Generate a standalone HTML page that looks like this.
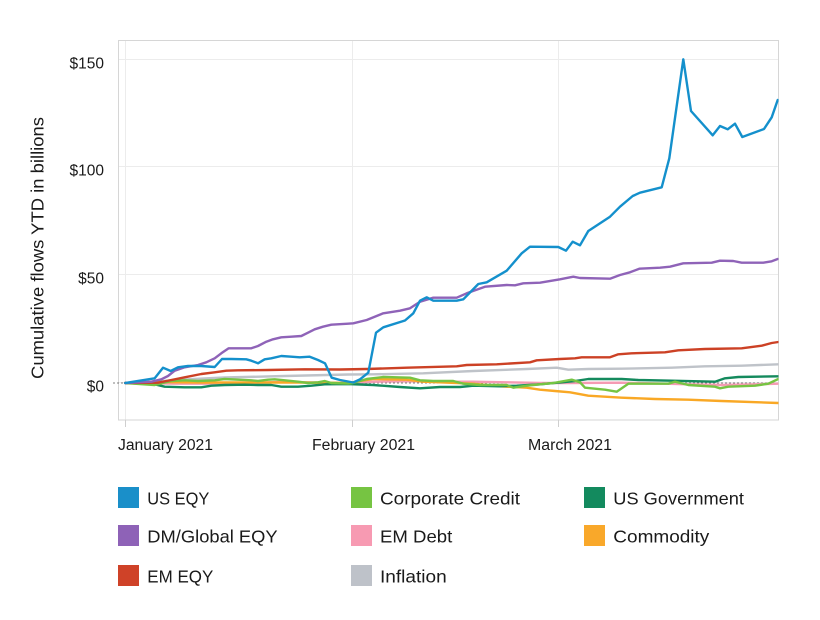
<!DOCTYPE html>
<html>
<head>
<meta charset="utf-8">
<style>
html,body{margin:0;padding:0;background:#fff;}
svg{display:block;}
text{font-family:"Liberation Sans",Arial,sans-serif;fill:#1a1a1a;}
</style>
</head>
<body>
<svg width="820" height="620" viewBox="0 0 820 620" xmlns="http://www.w3.org/2000/svg">
<defs>
<clipPath id="pc"><rect x="118.5" y="40.5" width="660" height="379.5"/></clipPath>
</defs>
<rect width="820" height="620" fill="#fff"/>
<!-- gridlines -->
<g stroke="#ececec" stroke-width="1">
<line x1="118.5" y1="59.5" x2="778.5" y2="59.5"/>
<line x1="118.5" y1="166.5" x2="778.5" y2="166.5"/>
<line x1="118.5" y1="274.5" x2="778.5" y2="274.5"/>
<line x1="118.5" y1="382.5" x2="778.5" y2="382.5"/>
<line x1="125.5" y1="40.5" x2="125.5" y2="420"/>
<line x1="352.5" y1="40.5" x2="352.5" y2="420"/>
<line x1="558.5" y1="40.5" x2="558.5" y2="420"/>
</g>
<!-- border -->
<rect x="118.5" y="40.5" width="660" height="379.5" fill="none" stroke="#d6d6d6" stroke-width="1"/>
<!-- ticks -->
<g stroke="#cfcfcf" stroke-width="1">
<line x1="125.5" y1="420" x2="125.5" y2="427"/>
<line x1="352.5" y1="420" x2="352.5" y2="427"/>
<line x1="558.5" y1="420" x2="558.5" y2="427"/>
</g>
<!-- zero dashed -->
<line x1="113" y1="383" x2="778" y2="383" stroke="#555" stroke-width="0.8" stroke-dasharray="2,2"/>

<g clip-path="url(#pc)" fill="none" stroke-width="2.4" stroke-linejoin="round" stroke-linecap="round">
<polyline stroke="#bfc3c9" points="125.3,383 150,382 184.7,379.5 224.7,377.5 284.7,376 348,374.5 373.3,374.3 423.3,373.3 473.3,371 526.7,369 556.7,367.7 568.3,369.7 588.3,369 621.7,368.7 671.7,367.7 705,366.3 741.7,365.7 778.3,364.3"/>
<polyline stroke="#f59bb3" points="125.3,383 175,383.7 208,383.7 251.3,383 284.7,381.7 308,382.3 348,383 373.3,381.7 406.7,381 440,381.7 473.3,381.7 506.7,382.3 540,383 570,383 621.7,382.7 665,383.7 688.3,384.3 721.7,385 755,384.3 778.3,383.7"/>
<polyline stroke="#f9a825" points="125.3,383 158,382 200,382.5 250,382.5 300,382.5 348,383 360,381 373.3,379 406.7,379.7 423.3,381.7 473.3,383.7 500,386.3 526.7,387.7 540,389.7 555,391 570,392.3 588.3,395.7 621.7,397.7 655,399 688.3,399.7 721.7,401 778.3,403"/>
<polyline stroke="#148a5d" points="125.3,383 154.7,384.3 164.7,386.7 184.7,387.3 201.3,387.3 211.3,385.7 224.7,385 244.7,384.7 258,385 271.3,385 281.3,386.7 298,386.7 311.3,385.7 324.7,384.3 348,384 373.3,385 400,387 420,388.3 440,387 460,387 473.3,385.7 500,386.3 516.7,385.7 540,384.3 561.7,382.3 575,381 588.3,379 621.7,379 638.3,380 671.7,380.7 715,381.7 725,378.3 738.3,377 778.3,376.3"/>
<polyline stroke="#76c443" points="125.3,383 154.7,385 171.3,381 184.7,380.3 198,381 214.7,380.3 224.7,379 238,379.7 251.3,380.3 258,381 268,379.7 274.7,379.3 284.7,380.3 298,381.7 308,383 318,382.3 324.7,381 331.3,383 348,383.5 353,383 366.7,379 383.3,377 410,377.7 420,380.3 433.3,381 453.3,381 463.3,383.7 480,385 506.7,385 513.3,387.7 526.7,385.7 553.3,383 571.7,379.7 580,382.3 585,387.7 605,389.7 616.7,391.7 628.3,383.7 668.3,383.7 675,381.7 688.3,385 715,386.7 720,388.3 728.3,386.7 755,385.7 768.3,383.7 778.3,379"/>
<polyline stroke="#cc4125" points="125.3,383 158,382.7 171.3,380 184.7,377.3 201.3,374 214.7,372.3 226.3,370.7 238,370.3 268,370 304.7,369.3 340,369.5 366.7,369 406.7,367.7 456.7,366.3 466.7,365 496.7,364.3 530,362.3 536.7,360.3 560,359 575,358.3 581.7,357.3 610,357.3 618.3,354.3 631.7,353.3 665,352.3 678.3,350.3 705,349 741.7,348.3 761.7,345.7 771.7,343 778.3,342"/>
<polyline stroke="#8f63b8" points="125.3,383 151.3,381.7 161.3,379.3 168,376 174.7,370.7 184.7,367.3 198,365 206.3,362.3 214.7,358.3 221.3,353.3 228.7,348.3 243,348.3 251.3,348.3 258,346 266.3,341.7 273,339.3 281.3,337.3 291.3,336.7 301.3,336 308,332.7 314.7,329.3 323,326.7 331.3,324.7 348,323.7 353.3,323.3 366.7,320 383.3,313.3 400,310.7 410,308.3 420,301.7 433.3,297.7 456.7,297.7 466.7,293.3 485,286.7 506.7,285 515,285.3 523.3,283.3 540,282.7 560,279.3 573.3,276.7 580,278 610,278.7 620,275 630,272.3 639.3,268.7 660,267.7 670,266.7 683.3,263.3 711.7,262.7 720,260.7 733.3,261 741.7,262.7 763.3,262.7 771.7,261.3 777.7,259"/>
<polyline stroke="#1490cc" points="125.3,383 154.7,378.3 163,367.7 170.7,371 178,367.3 188,366 201.3,366 214.7,367 222,359 231.3,359 246.3,359.3 251.3,360.7 258,363.3 264.7,359.3 271.3,358.3 281.3,356 291.3,356.7 299.7,357.3 309.7,356.7 318,360 325,363.3 331.7,377.7 340,380 353.3,382.5 360,379.3 368.3,372.7 376,332.7 383.3,327.3 405,320.5 413.3,313.3 420,300.7 426.7,297.3 433.3,300.7 456.7,300.7 463.3,299.3 478.3,284 486.7,282.3 506.7,270.7 521.7,253.3 530,246.7 558.3,247 566,250.7 572.7,241.7 580,245.3 588.3,231 610,216.7 620,206.7 632.7,196 640,192.7 661.7,187.3 669.3,158.3 683.3,59.3 691,111 712.7,135.3 720,126 727.7,129.3 735,123.7 742.3,137 764,129 771.7,117.3 777.7,100"/>
</g>

<!-- y tick labels -->
<g font-size="15.5" text-anchor="end">
<text x="104" y="68.5">$150</text>
<text x="104" y="175.5">$100</text>
<text x="104" y="283.5">$50</text>
<text x="104" y="391.5">$0</text>
</g>
<!-- x tick labels -->
<g font-size="15.5">
<text x="118" y="450" textLength="95" lengthAdjust="spacingAndGlyphs">January 2021</text>
<text x="312" y="450" textLength="103" lengthAdjust="spacingAndGlyphs">February 2021</text>
<text x="528" y="450" textLength="84" lengthAdjust="spacingAndGlyphs">March 2021</text>
</g>
<!-- y title -->
<text transform="translate(43.5,379) rotate(-90)" font-size="17.5" textLength="262" lengthAdjust="spacingAndGlyphs">Cumulative flows YTD in billions</text>

<!-- legend -->
<g>
<rect x="118" y="487" width="21" height="21" fill="#1a8fc9"/>
<rect x="118" y="525" width="21" height="21" fill="#8e62b7"/>
<rect x="118" y="565" width="21" height="21" fill="#cf4228"/>
<rect x="351" y="487" width="21" height="21" fill="#76c442"/>
<rect x="351" y="525" width="21" height="21" fill="#f79ab2"/>
<rect x="351" y="565" width="21" height="21" fill="#bec2c9"/>
<rect x="584" y="487" width="21" height="21" fill="#138a5e"/>
<rect x="584" y="525" width="21" height="21" fill="#f9a82a"/>
</g>
<g font-size="17.5">
<text x="147.3" y="504.3" textLength="62" lengthAdjust="spacingAndGlyphs">US EQY</text>
<text x="147.3" y="542.5" textLength="130.3" lengthAdjust="spacingAndGlyphs">DM/Global EQY</text>
<text x="147.3" y="582.7" textLength="66" lengthAdjust="spacingAndGlyphs">EM EQY</text>
<text x="380" y="504.3" textLength="140" lengthAdjust="spacingAndGlyphs">Corporate Credit</text>
<text x="380" y="542.5" textLength="72.3" lengthAdjust="spacingAndGlyphs">EM Debt</text>
<text x="380" y="582.7" textLength="66.7" lengthAdjust="spacingAndGlyphs">Inflation</text>
<text x="613.3" y="504.3" textLength="130.7" lengthAdjust="spacingAndGlyphs">US Government</text>
<text x="613.3" y="542.5" textLength="96" lengthAdjust="spacingAndGlyphs">Commodity</text>
</g>
</svg>
</body>
</html>
